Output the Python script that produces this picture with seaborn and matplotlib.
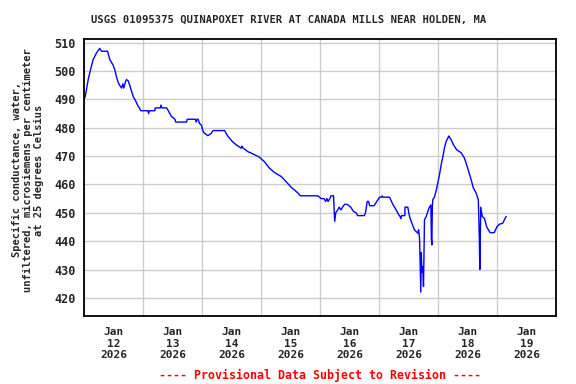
import numpy as np
import pandas as pd
import matplotlib
matplotlib.use("Agg")
import matplotlib.pyplot as plt
import matplotlib.dates as mdates
import seaborn as sns

title = "USGS 01095375 QUINAPOXET RIVER AT CANADA MILLS NEAR HOLDEN, MA"
ylabel = "Specific conductance, water,\nunfiltered, microsiemens per centimeter\nat 25 degrees Celsius"
footer = "---- Provisional Data Subject to Revision ----"
start = "2026-01-12"

hours = [0, 0.5, 1.0, 1.7, 2.8, 3.7, 5.1, 6.4, 7.1, 9.6, 10.5, 11.9, 12.5, 13.2, 13.9, 14.5,
         15.3, 15.8, 16.2, 16.8, 17.3, 18.0, 18.6, 19.3, 20.0, 20.7, 22.0, 22.5, 23.1, 26.0,
         26.3, 26.6, 28.8, 29.0, 31.0, 31.3, 31.6, 33.6, 34.3, 34.9, 35.6, 36.3, 37.0, 37.3,
         41.7, 42.0, 45.3, 45.6, 46.0, 46.4, 47.0, 47.7, 48.2, 48.7, 50.4, 51.7, 52.5, 57.2,
         58.5, 60.5, 61.9, 63.9, 64.2, 64.5, 66.6, 69.4, 71.4, 73.4, 75.5, 77.5, 80.2, 82.2,
         84.3, 87.0, 88.0, 95.1, 96.5, 97.7, 98.3, 98.8, 99.3, 100.0, 100.5, 101.5, 101.8,
         102.0, 102.4, 103.2, 103.8, 104.5, 105.2, 106.0, 107.0, 108.5, 109.6, 110.7, 111.3,
         114.0, 114.5, 115.2, 115.8, 116.2, 118.0, 119.5, 120.2, 121.0, 121.3, 121.6, 124.3,
         125.6, 127.0, 128.0, 128.6, 128.9, 129.2, 130.5, 130.6, 131.7, 132.4, 133.1, 134.4,
         135.8, 136.1, 136.5, 137.0, 137.2, 137.5, 137.8, 138.1, 138.5, 139.2, 140.3, 141.1,
         141.3, 141.5, 141.7, 141.9, 142.6, 143.3, 143.9, 144.6, 145.3, 146.0, 146.6, 147.3,
         148.4, 149.4, 150.3, 151.6, 153.4, 154.8, 156.1, 157.5, 158.4, 159.5, 160.4, 160.8,
         161.0, 161.2, 161.4, 162.0, 162.9, 163.8, 165.2, 166.9, 167.9, 169.0, 170.3, 171.0,
         171.7]
values = [490, 491, 493.4, 497, 501, 504, 506.4, 508, 507, 507, 504, 502, 500.5, 498, 496, 495,
          494, 495.5, 494, 496, 497, 496.5, 495, 493, 491, 490, 487.6, 487, 486, 486,
          485, 486, 486, 487, 487, 488, 487, 487, 486, 485, 484, 483.5, 483, 482,
          482, 483, 483, 482, 483, 483, 481.5, 481, 479.5, 478.3, 477.2, 478, 479, 479,
          477, 475, 474, 472.8, 473.5, 473, 471.6, 470.5, 469.6, 468, 465.7, 464.2, 462.8, 461,
          459, 457, 456, 456, 455, 455, 454, 455, 454, 455, 456, 456, 450,
          447, 450, 451, 452, 451, 452, 453, 453, 452, 450.5, 450, 449,
          449, 450, 454, 454, 452.5, 452.5, 454.5, 455.5, 455.5, 456, 455.5, 455.5,
          453, 451, 449.3, 448.7, 448, 449, 449, 452, 452, 448.7, 447, 444,
          442.8, 444, 441, 422, 436, 429, 431, 424, 447.5, 448.7, 451.6, 452.8,
          441, 438.7, 452, 454.6, 455.7, 458, 460.4, 463.4, 467, 469.8, 472.8, 475.1,
          477.1, 475.7, 474, 472.2, 471.2, 469.2, 465.7, 461.6, 458.7, 457, 454.6, 441.6,
          430, 441, 452, 448.7, 448, 445, 443, 443, 445, 446, 446.3, 447.5,
          448.7]

df = pd.DataFrame({
    "time": pd.Timestamp(start) + pd.to_timedelta(hours, unit="h"),
    "value": values,
})

sns.set_theme(style="white")
mono = "DejaVu Sans Mono"
plt.rcParams["font.family"] = [mono]
plt.rcParams["font.weight"] = "bold"

fig = plt.figure(figsize=(5.76, 3.84), dpi=100)
ax = fig.add_axes([84 / 576, 1 - 316 / 384, (556 - 84) / 576, (316 - 39) / 384])

sns.lineplot(data=df, x="time", y="value", ax=ax, color="#0000ff", linewidth=1.0)

t0 = pd.Timestamp(start)
ax.set_xlim(t0, t0 + pd.Timedelta(days=8))
ax.set_ylim(413.6, 511.3)

ax.xaxis.set_major_locator(mdates.DayLocator())
ax.xaxis.set_major_formatter(plt.NullFormatter())
ax.xaxis.set_minor_locator(mdates.HourLocator(byhour=[12]))
ax.xaxis.set_minor_formatter(mdates.DateFormatter("%b\n%d\n%Y"))
ax.set_yticks(np.arange(420, 511, 10))

ax.grid(True, which="major", color="#cccccc", linewidth=1.0)
ax.tick_params(axis="x", which="both", length=0, pad=8, labelsize=8)
ax.tick_params(axis="y", length=0, pad=6, labelsize=8.5)
for lab in ax.get_xticklabels(minor=True):
    lab.set_fontweight("bold")
for lab in ax.get_yticklabels():
    lab.set_fontweight("bold")

for s in ax.spines.values():
    s.set_color("black")
    s.set_linewidth(1.3)

ax.set_xlabel("")
ax.set_ylabel(ylabel, fontsize=7.5, fontweight="bold", linespacing=1.1)
ax.yaxis.set_label_coords((44 - 84) / 472, (316 - 170) / 277)

fig.text(289 / 576, 1 - 20 / 384, title, ha="center", va="center", fontsize=7.6, fontweight="bold")
fig.text(320 / 576, 1 - 375 / 384, footer, ha="center", va="center", fontsize=8.4,
         fontweight="bold", color="red")

fig.savefig("out.png", dpi=100)
